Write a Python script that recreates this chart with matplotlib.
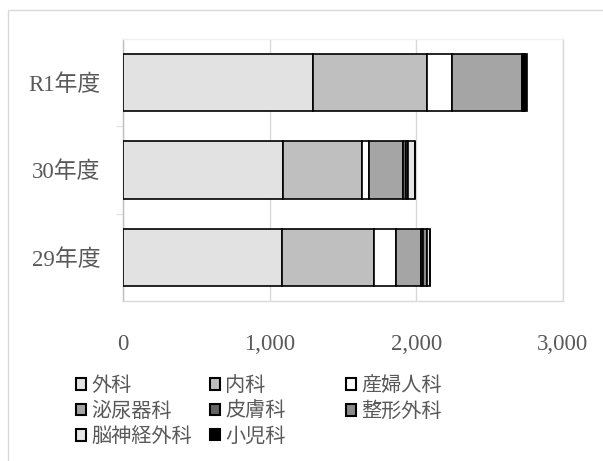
import numpy as np
import matplotlib.pyplot as plt
from matplotlib.patches import Rectangle

plt.rcParams['font.family'] = ['Liberation Serif', 'Noto Sans CJK JP']

years = ['29年度', '30年度', 'R1年度']
depts = ['外科', '内科', '産婦人科', '泌尿器科', '皮膚科', '整形外科', '脳神経外科', '小児科']
values = {
    '外科':       [1082, 1091, 1295],
    '内科':       [629, 536, 777],
    '産婦人科':   [148, 50, 171],
    '泌尿器科':   [171, 234, 477],
    '皮膚科':     [18, 17, 8],
    '整形外科':   [22, 12, 6],
    '脳神経外科': [20, 50, 5],
    '小児科':     [3, 1, 15],
}
colors = ['#e2e2e2', '#bfbfbf', '#ffffff', '#a5a5a5', '#636363', '#8a8a8a', '#e6e6e6', '#000000']
text_color = '#595959'

fig = plt.figure(figsize=(6.03, 4.61), dpi=100)
ax = fig.add_axes([123/603, 1 - 301/461, 440/603, 262/461])

y = np.arange(len(years))
left = np.zeros(len(years))
bars = []
for d, c in zip(depts, colors):
    v = np.array(values[d], dtype=float)
    b = ax.barh(y, v, left=left, height=0.66, color=c, edgecolor='black',
                linewidth=1.2, label=d, zorder=3)
    bars.append(b)
    left += v

ax.set_xlim(0, 3000)
ax.set_ylim(-0.5, 2.5)
ax.set_xticks([0, 1000, 2000, 3000])
ax.set_xticklabels(['0', '1,000', '2,000', '3,000'])
ax.set_yticks(y)
ax.set_yticklabels(years)
ax.set_yticks([0.5, 1.5], minor=True)
ax.tick_params(axis='x', length=0, pad=24, labelsize=16.5, labelcolor=text_color)
ax.tick_params(axis='y', which='major', length=0, pad=16, labelsize=16.5, labelcolor=text_color)
ax.tick_params(axis='y', which='minor', length=5, color='#e4e4e4', width=1)
ax.grid(axis='x', color='#d9d9d9', linewidth=1, zorder=0)
ax.spines['left'].set_color('#bfbfbf')
ax.spines['top'].set_color('#f0f0f0')
ax.spines['bottom'].set_color('#d9d9d9')
ax.spines['right'].set_color('#d9d9d9')
for s in ax.spines.values():
    s.set_linewidth(1)

# legend laid out as three equal-width columns
cols = [[0, 3, 6], [1, 4, 7], [2, 5]]
col_x = [76/603, 210/603, 346/603]
for idx, cx in zip(cols, col_x):
    leg = fig.legend([bars[i] for i in idx], [depts[i] for i in idx],
                     loc='upper left', bbox_to_anchor=(cx, 1 - 377/461),
                     frameon=False, fontsize=14.5, handlelength=0.5,
                     handleheight=0.5, handletextpad=0.25, labelspacing=0.32,
                     borderpad=0, borderaxespad=0)
    for t in leg.get_texts():
        t.set_color(text_color)
    for h in leg.legend_handles:
        h.set_linewidth(1.5)

# chart area border
fig.add_artist(Rectangle((8/603, -0.1), 1.2, 1 - 10/461 + 0.1,
                         transform=fig.transFigure, fill=False,
                         edgecolor='#d9d9d9', linewidth=1))

fig.savefig('out.png', dpi=100)
